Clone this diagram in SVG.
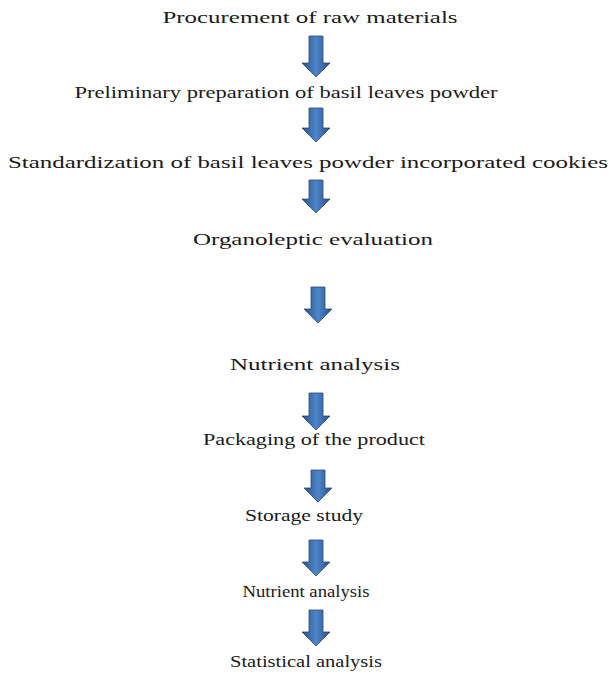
<svg xmlns="http://www.w3.org/2000/svg" width="613" height="679" viewBox="0 0 613 679">
<defs>
<linearGradient id="ag" x1="0" y1="0" x2="1" y2="0">
<stop offset="0" stop-color="#2a4f8a"/>
<stop offset="0.5" stop-color="#4f86c9"/>
<stop offset="1" stop-color="#2a4f8a"/>
</linearGradient>
<path id="arr" d="M-7,0 H7 V-15 H14 L0,0 Z"/>
</defs>
<style>
text{font-family:"Liberation Serif","Times New Roman",serif;font-size:16px;fill:#1a1a1a;text-anchor:middle}
.a{fill:url(#ag);stroke:#2a4a80;stroke-width:0.8}
</style>
<rect width="613" height="679" fill="#fff"/>
<g id="connectors">
<path class="a" d="M309,36 H323 V63 H330 L316,77 L302,63 H309 Z"/>
<path class="a" d="M309,108 H323 V128 H330 L316,142 L302,128 H309 Z"/>
<path class="a" d="M309,180 H323 V199 H330 L316,213 L302,199 H309 Z"/>
<path class="a" d="M311,287 H325 V309 H332 L318,323 L304,309 H311 Z"/>
<path class="a" d="M309,393 H323 V416 H330 L316,430 L302,416 H309 Z"/>
<path class="a" d="M311,470 H325 V488 H332 L318,502 L304,488 H311 Z"/>
<path class="a" d="M309,540 H323 V562 H330 L316,576 L302,562 H309 Z"/>
<path class="a" d="M309,610 H323 V632 H330 L316,646 L302,632 H309 Z"/>
</g>
<g id="n1"><text x="310" y="23" textLength="295" lengthAdjust="spacingAndGlyphs">Procurement of raw materials</text></g>
<g id="n2"><text x="286" y="98" textLength="423" lengthAdjust="spacingAndGlyphs">Preliminary preparation of basil leaves powder</text></g>
<g id="n3"><text x="308" y="168" textLength="600" lengthAdjust="spacingAndGlyphs">Standardization of basil leaves powder incorporated cookies</text></g>
<g id="n4"><text x="313" y="245" textLength="240" lengthAdjust="spacingAndGlyphs">Organoleptic evaluation</text></g>
<g id="n5"><text x="315" y="370" textLength="170" lengthAdjust="spacingAndGlyphs">Nutrient analysis</text></g>
<g id="n6"><text x="314" y="445" textLength="222" lengthAdjust="spacingAndGlyphs">Packaging of the product</text></g>
<g id="n7"><text x="304" y="521" textLength="118" lengthAdjust="spacingAndGlyphs">Storage study</text></g>
<g id="n8"><text x="306" y="597" textLength="127" lengthAdjust="spacingAndGlyphs">Nutrient analysis</text></g>
<g id="n9"><text x="306" y="667" textLength="152" lengthAdjust="spacingAndGlyphs">Statistical analysis</text></g>
</svg>
